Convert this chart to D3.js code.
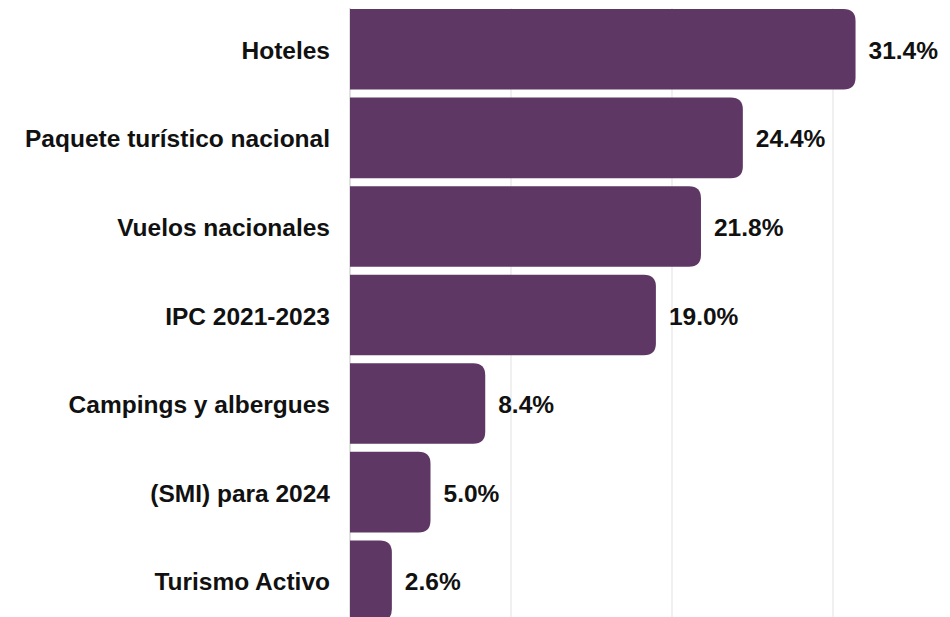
<!DOCTYPE html>
<html>
<head>
<meta charset="utf-8">
<script src="https://cdn.jsdelivr.net/npm/d3@7"></script>
<style>
  body { margin: 0; background: #fff; }
  svg { display: block; }
</style>
</head>
<body>
<div id="container"><svg></svg></div>
<script>
let categories = ['Hoteles', 'Paquete turístico nacional', 'Vuelos nacionales', 'IPC 2021-2023',
    'Campings y albergues', '(SMI) para 2024', 'Turismo Activo'];
let values = [31.4, 24.4, 21.8, 19.0, 8.4, 5.0, 2.6];
let grid_ticks = [0, 10, 20, 30];

let width = 950, height = 617;
let fontFamily = "'Liberation Sans', Arial, sans-serif";

function draw_main() {
    let data = categories.map((c, i) => ({name: c, value: values[i]}));
    let svg = d3.select('#container').select('svg')
        .attr('width', width)
        .attr('height', height);

    let x = d3.scaleLinear()
        .domain([0, 10])
        .range([350, 511]);
    let y = d3.scaleBand()
        .domain(categories)
        .range([5, 625])
        .paddingInner(0.09)
        .paddingOuter(0.045);

    // grid lines
    svg.append('g')
        .selectAll('line')
        .data(grid_ticks)
        .enter().append('line')
        .attr('x1', d => x(d)).attr('x2', d => x(d))
        .attr('y1', 8).attr('y2', height)
        .attr('stroke', d => d === 0 ? '#d6d6d6' : '#ebebeb')
        .attr('stroke-width', 1.5);

    // bars, right side rounded
    let r = 12;
    svg.append('g')
        .selectAll('path')
        .data(data)
        .enter().append('path')
        .attr('d', d => {
            let x0 = x(0), x1 = x(d.value), y0 = y(d.name), h = y.bandwidth();
            let rr = Math.min(r, (x1 - x0) / 2);
            return `M${x0},${y0}H${x1 - rr}Q${x1},${y0} ${x1},${y0 + rr}V${y0 + h - rr}Q${x1},${y0 + h} ${x1 - rr},${y0 + h}H${x0}Z`;
        })
        .attr('fill', '#5f3764');

    // category labels
    svg.append('g')
        .selectAll('text')
        .data(data)
        .enter().append('text')
        .attr('x', 330)
        .attr('y', d => y(d.name) + y.bandwidth() / 2 + 1)
        .attr('dy', '0.35em')
        .attr('text-anchor', 'end')
        .attr('font-family', fontFamily)
        .attr('font-weight', 'bold')
        .attr('font-size', '24.5px')
        .attr('fill', '#111')
        .text(d => d.name);

    // value labels
    svg.append('g')
        .selectAll('text')
        .data(data)
        .enter().append('text')
        .attr('x', d => x(d.value) + 13)
        .attr('y', d => y(d.name) + y.bandwidth() / 2 + 1)
        .attr('dy', '0.35em')
        .attr('font-family', fontFamily)
        .attr('font-weight', 'bold')
        .attr('font-size', '24.5px')
        .attr('fill', '#111')
        .text(d => d.value.toFixed(1) + '%');
}

draw_main();
</script>
</body>
</html>
